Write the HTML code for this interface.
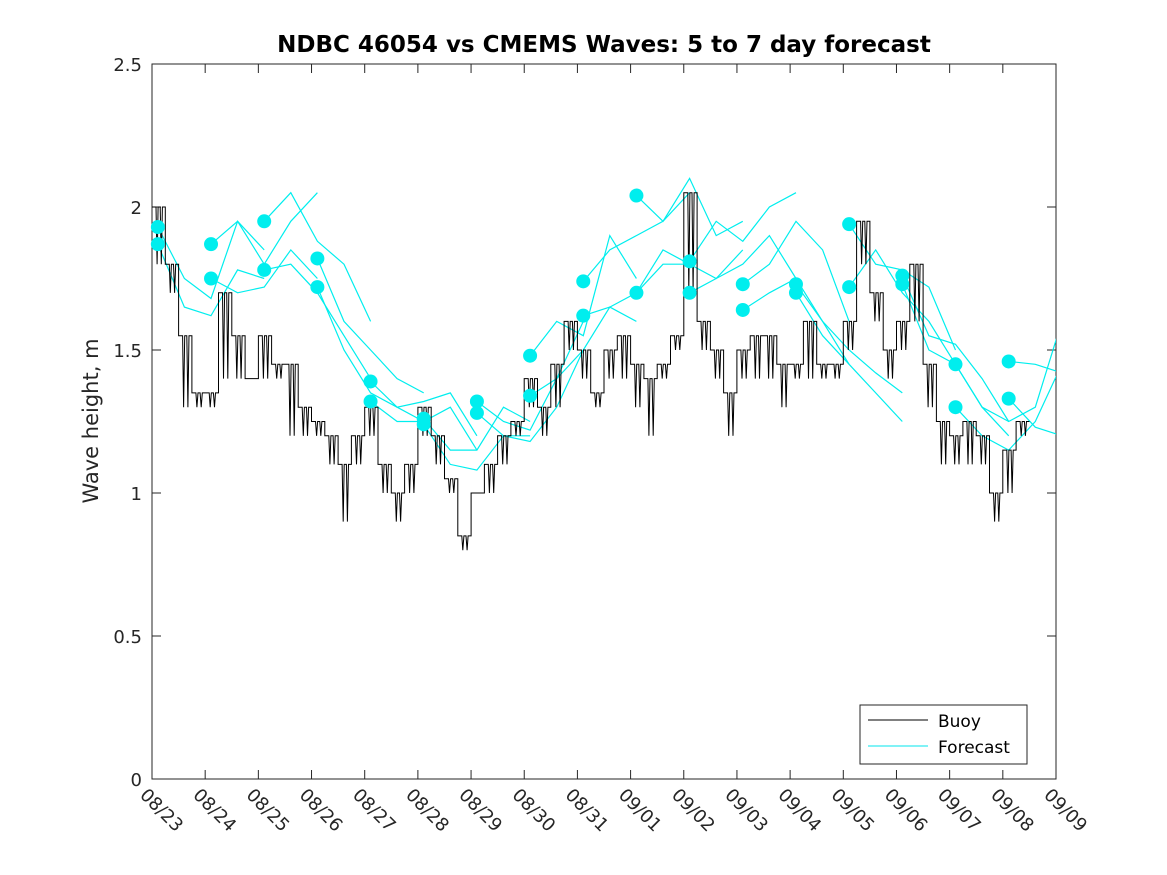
<!DOCTYPE html>
<html><head><meta charset="utf-8"><style>
html,body{margin:0;padding:0;background:#fff;}
svg{display:block;font-family:"DejaVu Sans","Liberation Sans",sans-serif;}
</style></head><body>
<svg id="chart" width="1167" height="875" viewBox="0 0 1167 875">
<rect width="1167" height="875" fill="#fff"/>
<defs><clipPath id="pc"><rect x="152" y="64" width="904" height="715"/></clipPath></defs>
<text x="604" y="52" text-anchor="middle" font-size="23" font-weight="bold" fill="#000">NDBC 46054 vs CMEMS Waves: 5 to 7 day forecast</text>
<text transform="translate(98,421) rotate(-90)" text-anchor="middle" font-size="21" fill="#262626">Wave height, m</text>
<g id="axes"></g>
<g id="fc" clip-path="url(#pc)"></g>
<g id="buoy" clip-path="url(#pc)"></g>
<g id="dots"></g>
<g>
<rect x="860" y="705" width="167" height="59" fill="#fff" stroke="#262626" stroke-width="1"/>
<line x1="868" y1="720" x2="928" y2="720" stroke="#000" stroke-width="1"/>
<text x="938" y="727" font-size="17" fill="#000">Buoy</text>
<line x1="868" y1="746" x2="928" y2="746" stroke="#00e5ee" stroke-width="1"/>
<text x="938" y="753" font-size="17" fill="#000">Forecast</text>
</g>
</svg>
<script>
const xTickLabels=["08/23","08/24","08/25","08/26","08/27","08/28","08/29","08/30","08/31","09/01","09/02","09/03","09/04","09/05","09/06","09/07","09/08","09/09"];
const yTicks=[0,0.5,1,1.5,2,2.5];
const yTickLabels=["0","0.5","1","1.5","2","2.5"];
const buoyDays=[0,0.25,0.5,0.75,1,1.25,1.5,1.75,2,2.25,2.5,2.75,3,3.25,3.5,3.75,4,4.25,4.5,4.75,5,5.25,5.5,5.75,6,6.25,6.5,6.75,7,7.25,7.5,7.75,8,8.25,8.5,8.75,9,9.25,9.5,9.75,10,10.25,10.5,10.75,11,11.25,11.5,11.75,12,12.25,12.5,12.75,13,13.25,13.5,13.75,14,14.25,14.5,14.75,15,15.25,15.5,15.75,16,16.25];
const buoyVals=[2.0,1.8,1.55,1.35,1.35,1.7,1.55,1.4,1.55,1.45,1.45,1.3,1.25,1.2,1.1,1.2,1.3,1.1,1.0,1.1,1.3,1.2,1.05,0.85,1.0,1.1,1.2,1.25,1.4,1.3,1.45,1.6,1.5,1.35,1.5,1.55,1.45,1.4,1.45,1.55,2.05,1.6,1.5,1.35,1.5,1.55,1.55,1.45,1.45,1.6,1.45,1.45,1.6,1.95,1.7,1.5,1.6,1.8,1.45,1.25,1.2,1.25,1.2,1.0,1.15,1.25];
const buoyLow=[1.8,1.7,1.3,1.3,1.3,1.4,1.4,1.4,1.4,1.4,1.2,1.2,1.2,1.1,0.9,1.1,1.2,1.0,0.9,1.0,1.2,1.1,1.0,0.8,1.0,1.0,1.1,1.2,1.3,1.2,1.3,1.5,1.4,1.3,1.4,1.4,1.3,1.2,1.4,1.5,1.7,1.5,1.4,1.2,1.4,1.4,1.4,1.3,1.4,1.4,1.4,1.4,1.5,1.8,1.6,1.4,1.5,1.6,1.3,1.1,1.1,1.1,1.1,0.9,1.0,1.2];
const fcStartDays=[0.11,1.11,2.11,3.11,4.11,5.11,6.11,7.11,8.11,9.11,10.11,11.11,12.11,13.11,14.11,15.11,16.11];
const fcOffsets=[0,0.5,1,1.5,2];
const fcUpper=[[1.93,1.75,1.68,1.95,1.85],[1.87,1.95,1.8,1.95,2.05],[1.95,2.05,1.88,1.8,1.6],[1.82,1.6,1.5,1.4,1.35],[1.39,1.3,1.32,1.35,1.2],[1.26,1.15,1.15,1.3,1.25],[1.32,1.25,1.22,1.4,1.6],[1.48,1.6,1.55,1.9,1.75],[1.74,1.85,1.9,1.95,2.05],[2.04,1.95,2.1,1.9,1.95],[1.81,1.95,1.88,2.0,2.05],[1.73,1.8,1.95,1.85,1.6],[1.73,1.6,1.5,1.42,1.35],[1.94,1.8,1.78,1.72,1.5],[1.76,1.55,1.52,1.4,1.25],[1.45,1.3,1.25,1.3,1.6],[1.46,1.45,1.42,1.42,1.5]];
const fcLower=[[1.87,1.65,1.62,1.78,1.75],[1.75,1.7,1.72,1.85,1.75],[1.78,1.8,1.7,1.55,1.4],[1.72,1.5,1.35,1.3,1.25],[1.32,1.25,1.25,1.3,1.15],[1.24,1.1,1.08,1.2,1.2],[1.28,1.2,1.18,1.3,1.5],[1.34,1.4,1.5,1.65,1.6],[1.62,1.65,1.7,1.85,1.8],[1.70,1.8,1.8,1.75,1.85],[1.70,1.75,1.8,1.9,1.75],[1.64,1.7,1.75,1.6,1.45],[1.70,1.55,1.45,1.35,1.25],[1.72,1.85,1.7,1.6,1.45],[1.73,1.5,1.45,1.3,1.2],[1.30,1.2,1.15,1.25,1.45],[1.33,1.23,1.2,1.28,1.3]];

const NS="http://www.w3.org/2000/svg";
const X0=152,X1=1056,Y0=779,Y1=64;
function xs(d){return X0+(X1-X0)*d/17;}
function ys(v){return Y0-(Y0-Y1)*v/2.5;}
function mk(tag,attrs,parent){const e=document.createElementNS(NS,tag);for(const k in attrs)e.setAttribute(k,attrs[k]);parent.appendChild(e);return e;}
const ax=document.getElementById('axes');
mk('rect',{x:X0,y:Y1,width:X1-X0,height:Y0-Y1,fill:'none',stroke:'#262626','stroke-width':1},ax);
xTickLabels.forEach((t,i)=>{
  const x=xs(i);
  const l=mk('line',{x1:x,y1:Y0,x2:x,y2:Y0-9,stroke:'#262626'},ax);
  
  
  mk('line',{x1:x,y1:Y1,x2:x,y2:Y1+9,stroke:'#262626'},ax);
  const tx=mk('text',{transform:`translate(${x-13},${Y0+17}) rotate(45)`,'font-size':18,fill:'#262626'},ax);
  tx.textContent=t;
  
  
});
yTicks.forEach((v,i)=>{
  const y=ys(v);
  mk('line',{x1:X0,y1:y,x2:X0+9,y2:y,stroke:'#262626'},ax);
  mk('line',{x1:X1,y1:y,x2:X1-9,y2:y,stroke:'#262626'},ax);
  const tx=mk('text',{x:X0-10,y:y+7,'text-anchor':'end','font-size':18,fill:'#262626'},ax);
  tx.textContent=yTickLabels[i];
  
  
});
const fc=document.getElementById('fc');
const dots=document.getElementById('dots');
[fcUpper,fcLower].forEach(set=>{
  set.forEach((vals,i)=>{
    const pts=vals.map((v,j)=>xs(fcStartDays[i]+fcOffsets[j]).toFixed(1)+','+ys(v).toFixed(1)).join(' ');
    const p=mk('polyline',{points:pts,fill:'none',stroke:'#00eeee','stroke-width':1.2},fc);
    
    
    const c=mk('circle',{cx:xs(fcStartDays[i]),cy:ys(vals[0]),r:7,fill:'#00eeee'},dots);
    
    
  });
});
const bg=document.getElementById('buoy');
let d='';
buoyVals.forEach((v,i)=>{
  const xa=xs(buoyDays[i]);
  const xn=xs(i+1<buoyDays.length?buoyDays[i+1]:buoyDays[i]+0.25);
  const y=ys(v), yl=ys(buoyLow[i]);
  const w=xn-xa;
  d+=(i===0?'M':'L')+xa.toFixed(1)+','+y.toFixed(1);
  d+='L'+(xa+w*0.3).toFixed(1)+','+y.toFixed(1);
  d+='L'+(xa+w*0.38).toFixed(1)+','+yl.toFixed(1);
  d+='L'+(xa+w*0.46).toFixed(1)+','+y.toFixed(1);
  d+='L'+(xa+w*0.62).toFixed(1)+','+y.toFixed(1);
  d+='L'+(xa+w*0.7).toFixed(1)+','+yl.toFixed(1);
  d+='L'+(xa+w*0.78).toFixed(1)+','+y.toFixed(1);
  d+='L'+xn.toFixed(1)+','+y.toFixed(1);
});
const bp=mk('path',{d:d,fill:'none',stroke:'#000','stroke-width':1},bg);


</script>
</body></html>
